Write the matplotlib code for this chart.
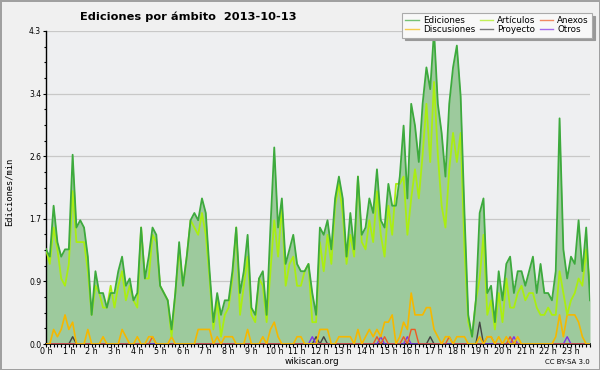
import numpy as np
import matplotlib
matplotlib.use("Agg")
import matplotlib.pyplot as plt
from matplotlib.lines import Line2D

# ediciones por minuto, intervalos de 10 minutos (144 puntos)
ediciones = [1.3, 1.2, 1.9, 1.4, 1.2, 1.3, 1.3, 2.6, 1.6, 1.7, 1.6, 1.2,
             0.4, 1.0, 0.7, 0.7, 0.5, 0.7, 0.7, 1.0, 1.2, 0.8, 0.9, 0.6,
             0.7, 1.6, 0.9, 1.2, 1.6, 1.5, 0.8, 0.7, 0.6, 0.2, 0.7, 1.4,
             0.8, 1.2, 1.7, 1.8, 1.7, 2.0, 1.8, 1.0, 0.3, 0.7, 0.4, 0.6,
             0.6, 1.0, 1.6, 0.7, 1.0, 1.5, 0.5, 0.4, 0.9, 1.0, 0.4, 1.6,
             2.7, 1.6, 2.0, 1.1, 1.3, 1.5, 1.1, 1.0, 1.0, 1.1, 0.7, 0.4,
             1.6, 1.5, 1.7, 1.3, 2.0, 2.3, 2.0, 1.2, 1.8, 1.3, 2.3, 1.5,
             1.6, 2.0, 1.8, 2.4, 1.7, 1.6, 2.2, 1.9, 1.9, 2.3, 3.0, 2.0,
             3.3, 3.0, 2.5, 3.3, 3.8, 3.5, 4.3, 3.3, 2.9, 2.3, 3.3, 3.8,
             4.1, 3.4, 1.8, 0.4, 0.1, 0.6, 1.8, 2.0, 0.7, 0.8, 0.3, 1.0,
             0.6, 1.1, 1.2, 0.7, 1.0, 1.0, 0.8, 1.0, 1.2, 0.7, 1.1, 0.7,
             0.7, 0.6, 1.0, 3.1, 1.3, 0.9, 1.2, 1.1, 1.7, 1.0, 1.6, 0.6]

articulos = [1.3, 1.1, 1.6, 1.3, 0.9, 0.8, 1.1, 2.1, 1.4, 1.4, 1.4, 1.0,
             0.4, 0.8, 0.7, 0.5, 0.5, 0.8, 0.5, 0.8, 1.0, 0.6, 0.8, 0.6,
             0.5, 1.6, 0.9, 0.9, 1.5, 1.4, 0.8, 0.7, 0.6, 0.1, 0.7, 1.3,
             0.8, 1.2, 1.7, 1.6, 1.5, 1.8, 1.5, 0.9, 0.2, 0.6, 0.1, 0.4,
             0.5, 0.9, 1.6, 0.4, 0.8, 1.2, 0.4, 0.3, 0.9, 0.8, 0.3, 1.0,
             1.7, 1.2, 1.9, 0.8, 1.1, 1.2, 0.8, 0.8, 1.0, 1.1, 0.3, 0.3,
             1.4, 1.0, 1.5, 1.1, 1.9, 2.2, 1.8, 1.1, 1.5, 1.2, 2.3, 1.4,
             1.3, 1.7, 1.4, 2.1, 1.5, 1.2, 1.9, 1.5, 2.2, 2.2, 2.3, 1.5,
             2.0, 2.4, 2.0, 2.6, 3.3, 2.5, 3.6, 2.6, 1.9, 1.6, 2.4, 2.9,
             2.5, 2.9, 1.3, 0.3, 0.1, 0.6, 0.9, 1.5, 0.4, 0.6, 0.2, 0.7,
             0.3, 0.9, 0.5, 0.5, 0.7, 0.8, 0.6, 0.7, 0.7, 0.5, 0.4, 0.4,
             0.5, 0.4, 0.4, 1.0, 0.7, 0.4, 0.6, 0.7, 0.9, 0.8, 1.3, 0.8]

discusiones = [0, 0, 0.2, 0.1, 0.2, 0.4, 0.2, 0.3, 0, 0, 0, 0.2,
               0, 0, 0, 0.1, 0, 0, 0, 0, 0.2, 0.1, 0, 0,
               0.1, 0, 0, 0.1, 0.1, 0, 0, 0, 0, 0.1, 0, 0,
               0, 0, 0, 0, 0.2, 0.2, 0.2, 0.2, 0, 0.1, 0, 0.1,
               0.1, 0.1, 0, 0, 0, 0.2, 0, 0, 0, 0.1, 0, 0.2,
               0.3, 0.1, 0, 0, 0, 0, 0.1, 0.1, 0, 0, 0, 0,
               0.2, 0.2, 0.2, 0, 0, 0.1, 0.1, 0.1, 0.1, 0, 0.2, 0,
               0.1, 0.2, 0.1, 0.2, 0.1, 0.3, 0.3, 0.4, 0, 0.1, 0.3, 0.2,
               0.7, 0.4, 0.4, 0.4, 0.5, 0.5, 0.2, 0.1, 0, 0.1, 0.1, 0,
               0.1, 0.1, 0.1, 0, 0, 0, 0.1, 0, 0.1, 0.1, 0, 0.1,
               0, 0.1, 0, 0, 0.1, 0, 0, 0, 0, 0, 0, 0,
               0, 0, 0.1, 0.4, 0.1, 0.4, 0.4, 0.4, 0.3, 0.1, 0, 0]

# series casi vacias: indice -> valor
anexos_pts = {28: 0.1, 87: 0.1, 89: 0.1, 94: 0.1, 96: 0.2, 97: 0.2,
              106: 0.1, 116: 0.1, 117: 0.1, 122: 0.1}
proyecto_pts = {7: 0.1, 71: 0.1, 73: 0.1, 101: 0.1, 114: 0.3}
otros_pts = {70: 0.1, 88: 0.1, 95: 0.1, 123: 0.1, 137: 0.1}

horas = [f"{h} h" for h in range(24)]

n = len(ediciones)
x = np.arange(n) / 6.0


def serie(pts):
    s = np.zeros(n)
    for k, v in pts.items():
        s[k] = v
    return s


anexos = serie(anexos_pts)
proyecto = serie(proyecto_pts)
otros = serie(otros_pts)

c_ed = "#3daa3d"
c_art = "#aaee11"
c_disc = "#f5b800"
c_anx = "#ee5a22"
c_proj = "#444444"
c_otros = "#8030e8"

fig = plt.figure(figsize=(6, 3.7), dpi=100)
fig.patch.set_facecolor("#f0f0f0")
fig.patch.set_edgecolor("#a0a0a0")
fig.patch.set_linewidth(2)

ax = fig.add_axes([46 / 600, 26 / 370, 544 / 600, 313 / 370])
ax.set_facecolor("#eeeff1")

ax.fill_between(x, 0, ediciones, color="#9dca9d", lw=0, zorder=1)
ax.plot(x, proyecto, color=c_proj, lw=1, zorder=3)
ax.plot(x, otros, color=c_otros, lw=1, zorder=3)
ax.plot(x, anexos, color=c_anx, lw=1, zorder=3)
ax.plot(x, discusiones, color=c_disc, lw=1.2, zorder=3)
ax.plot(x, articulos, color=c_art, lw=1.3, zorder=4)
ax.plot(x, ediciones, color=c_ed, lw=1.3, zorder=5)

ymax = 4.3
ax.set_ylim(0, ymax)
ax.set_xlim(0, x[-1])
yt = np.linspace(0, ymax, 6)
ax.set_yticks(yt)
ax.set_yticklabels([f"{v:.1f}" for v in yt], fontsize=5.5)
ax.set_yticks(np.linspace(0, ymax, 21), minor=True)
ax.set_xticks(np.arange(24))
ax.set_xticklabels(horas, fontsize=5.8)
ax.set_xticks(np.arange(0, x[-1] + 0.01, 1 / 6), minor=True)
ax.tick_params(axis="x", which="both", length=2, width=0.8, pad=0.5)
ax.tick_params(axis="y", which="major", length=2.5, width=0.8, pad=1)
ax.tick_params(axis="y", which="minor", length=1.6, width=0.8)
ax.grid(axis="y", color="#c8c8c8", lw=0.9, zorder=0)
ax.set_axisbelow(True)
for s in ["top", "right"]:
    ax.spines[s].set_visible(False)
ax.spines["left"].set_linewidth(1)
ax.spines["bottom"].set_linewidth(1.2)

fig.text(188 / 600, 1 - 17 / 370, "Ediciones por ámbito  2013-10-13",
         ha="center", va="center", fontsize=8.2, fontweight="bold")
fig.text(9 / 600, 1 - 192 / 370, "Ediciones/min", rotation=90,
         ha="center", va="center", fontsize=6.3, family="DejaVu Sans Mono")
fig.text(312 / 600, 1 - 362 / 370, "wikiscan.org", ha="center", va="center",
         fontsize=6.3)
fig.text(590 / 600, 1 - 362 / 370, "CC BY-SA 3.0", ha="right", va="center",
         fontsize=5)

handles = [Line2D([], [], color=c, lw=1, alpha=0.7) for c in
           [c_ed, c_disc, c_art, c_proj, c_anx, c_otros]]
labels = ["Ediciones", "Discusiones", "Artículos", "Proyecto", "Anexos", "Otros"]
leg = fig.legend(handles, labels, ncol=3, loc="upper right",
                 bbox_to_anchor=(592 / 600, 1 - 13 / 370), fontsize=6.3,
                 fancybox=False, shadow={"color": "#999999", "alpha": 1},
                 framealpha=1, facecolor="#f8f8f8", edgecolor="#aaaaaa",
                 handlelength=1.5, handletextpad=0.5, columnspacing=0.5,
                 labelspacing=0.05, borderpad=0.35, borderaxespad=0)
leg.get_frame().set_linewidth(0.8)

fig.savefig("out.png", dpi=100, facecolor=fig.get_facecolor(),
            edgecolor=fig.get_edgecolor())
